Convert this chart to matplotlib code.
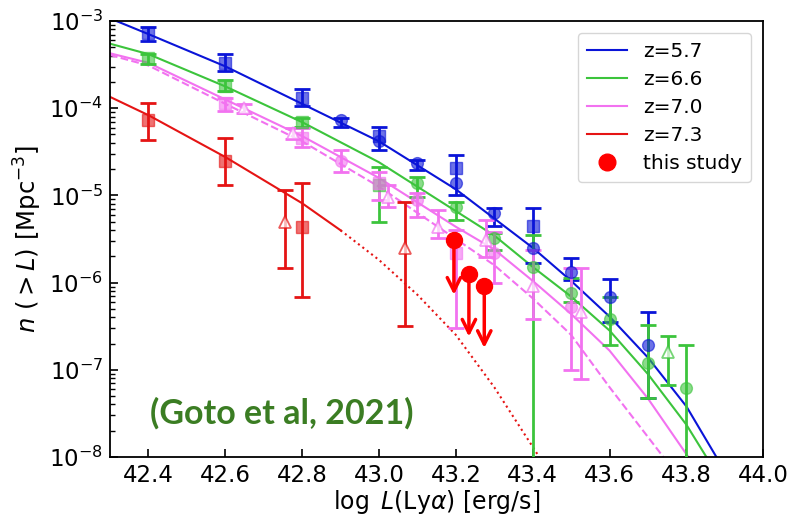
import numpy as np
import matplotlib
matplotlib.use("Agg")
import matplotlib.pyplot as plt
from matplotlib.lines import Line2D

# Curvas de la funcion de luminosidad acumulada (log L, log n)
blue_x = [42.30, 42.40, 42.60, 42.80, 43.00, 43.20, 43.40, 43.50, 43.60, 43.70, 43.80, 43.878]
blue_y = [-2.97, -3.15, -3.52, -3.95, -4.38, -4.93, -5.60, -5.98, -6.39, -6.86, -7.42, -8.0]

green_x = [42.30, 42.40, 42.60, 42.80, 43.00, 43.20, 43.30, 43.40, 43.50, 43.60, 43.70, 43.80, 43.852]
green_y = [-3.26, -3.38, -3.75, -4.16, -4.62, -5.18, -5.46, -5.82, -6.16, -6.55, -7.05, -7.63, -8.0]

pink_x = [42.30, 42.40, 42.60, 42.80, 43.00, 43.20, 43.30, 43.40, 43.50, 43.60, 43.70, 43.805]
pink_y = [-3.37, -3.48, -3.90, -4.32, -4.80, -5.36, -5.62, -5.98, -6.36, -6.78, -7.33, -8.0]

pink_dash_x = [42.30, 42.40, 42.60, 42.80, 43.00, 43.20, 43.30, 43.40, 43.50, 43.60, 43.74]
pink_dash_y = [-3.39, -3.51, -3.95, -4.38, -4.90, -5.50, -5.80, -6.18, -6.60, -7.20, -8.0]

red_x = [42.30, 42.40, 42.60, 42.80, 42.90]
red_y = [-3.87, -4.08, -4.56, -5.09, -5.40]
red_dot_x = [42.90, 43.00, 43.10, 43.20, 43.30, 43.417]
red_dot_y = [-5.40, -5.74, -6.14, -6.60, -7.20, -8.0]

# Puntos de datos: x, log n, extremo inferior, extremo superior
blue_sq_x = [42.4, 42.6, 42.8, 43.0, 43.2, 43.4]
blue_sq_y = [-3.14, -3.48, -3.88, -4.32, -4.69, -5.35]
blue_sq_lo = [-3.23, -3.57, -3.98, -4.48, -5.00, -5.77]
blue_sq_hi = [-3.07, -3.38, -3.78, -4.22, -4.54, -5.15]

blue_ci_x = [42.9, 43.1, 43.3, 43.5, 43.6, 43.7]
blue_ci_y = [-4.14, -4.63, -5.20, -5.88, -6.16, -6.71]
blue_ci_lo = [-4.22, -4.71, -5.35, -5.97, -6.45, -7.32]
blue_ci_hi = [-4.11, -4.59, -5.15, -5.72, -5.96, -6.34]
blue_pt_x = [43.0, 43.2, 43.4]
blue_pt_y = [-4.38, -4.86, -5.60]

green_sq_x = [42.4, 42.6, 42.8, 43.0]
green_sq_y = [-3.42, -3.74, -4.16, -4.88]
green_sq_lo = [-3.49, -3.80, -4.22, -5.31]
green_sq_hi = [-3.38, -3.68, -4.11, -4.67]

green_ci_x = [43.1, 43.2, 43.3, 43.4, 43.5, 43.6, 43.7, 43.8]
green_ci_y = [-4.86, -5.13, -5.49, -5.82, -6.12, -6.42, -6.92, -7.21]
green_ci_lo = [-5.02, -5.28, -5.63, -9.0, -6.22, -6.71, -7.32, -9.0]
green_ci_hi = [-4.79, -5.08, -5.43, -5.45, -5.95, -6.17, -6.49, -6.71]

green_tr_x = [43.753]
green_tr_y = [-6.80]
green_tr_lo = [-7.17]
green_tr_hi = [-6.61]

pink_sq_x = [42.6, 42.8, 43.0, 43.2]
pink_sq_y = [-3.94, -4.34, -4.86, -5.66]
pink_sq_lo = [-4.03, -4.45, -5.05, -6.52]
pink_sq_hi = [-3.88, -4.23, -4.73, -5.40]

pink_ci_x = [42.9, 43.1, 43.3, 43.5]
pink_ci_y = [-4.60, -5.05, -5.66, -6.28]
pink_ci_lo = [-4.73, -5.25, -6.00, -7.00]
pink_ci_hi = [-4.48, -4.97, -5.42, -5.83]

pink_tr_x = [42.648, 42.775, 43.023, 43.154, 43.279, 43.40, 43.527]
pink_tr_y = [-4.00, -4.29, -5.02, -5.36, -5.51, -6.04, -6.34]
pink_tr_lo = [-4.06, -4.35, -5.13, -5.49, -5.71, -6.42, -7.11]
pink_tr_hi = [-3.95, -4.23, -4.88, -5.17, -5.28, -5.63, -5.83]

red_sq_x = [42.4, 42.6, 42.8]
red_sq_y = [-4.14, -4.60, -5.36]
red_sq_lo = [-4.37, -4.88, -6.16]
red_sq_hi = [-3.94, -4.34, -4.86]

red_tr_x = [42.755, 43.068]
red_tr_y = [-5.31, -5.60]
red_tr_lo = [-5.83, -6.50]
red_tr_hi = [-4.94, -5.08]

# Este estudio (limites superiores)
study_x = [43.195, 43.234, 43.274]
study_y = [-5.51, -5.90, -6.04]
study_tip = [-6.14, -6.62, -6.75]

BLUE = "#0a14d8"
GREEN = "#3cc43c"
PINK = "#f272f0"
RED = "#e51414"


def puntos(ax, x, y, lo, hi, color, marker, abierto=False):
    y = 10 ** np.array(y)
    yerr = [y - 10 ** np.array(lo), 10 ** np.array(hi) - y]
    ax.errorbar(x, y, yerr=yerr, fmt="none", ecolor=color, elinewidth=2,
                capsize=6, capthick=2, zorder=3)
    if abierto:
        ax.plot(x, y, linestyle="none", marker=marker, ms=8, mfc="white",
                mec=color, mew=1.3, alpha=0.7, zorder=4)
    else:
        ax.plot(x, y, linestyle="none", marker=marker, ms=8.5, color=color,
                alpha=0.6, zorder=4)


fig = plt.figure(figsize=(7.88, 5.19), dpi=100)
ax = fig.add_axes([0.1396, 0.1195, 0.8290, 0.8400])

# Curvas
ax.plot(blue_x, 10 ** np.array(blue_y), color=BLUE, lw=1.5, zorder=2)
ax.plot(green_x, 10 ** np.array(green_y), color=GREEN, lw=1.5, zorder=2)
ax.plot(pink_x, 10 ** np.array(pink_y), color=PINK, lw=1.5, zorder=2)
ax.plot(pink_dash_x, 10 ** np.array(pink_dash_y), color=PINK, lw=1.5, ls="--", zorder=2)
ax.plot(red_x, 10 ** np.array(red_y), color=RED, lw=1.5, zorder=2)
ax.plot(red_dot_x, 10 ** np.array(red_dot_y), color=RED, lw=1.5, ls=":", zorder=2)

# Datos
puntos(ax, blue_sq_x, blue_sq_y, blue_sq_lo, blue_sq_hi, BLUE, "s")
puntos(ax, blue_ci_x, blue_ci_y, blue_ci_lo, blue_ci_hi, BLUE, "o")
ax.plot(blue_pt_x, 10 ** np.array(blue_pt_y), linestyle="none", marker="o",
        ms=8.5, color=BLUE, alpha=0.6, zorder=4)
puntos(ax, green_sq_x, green_sq_y, green_sq_lo, green_sq_hi, GREEN, "s")
puntos(ax, green_ci_x, green_ci_y, green_ci_lo, green_ci_hi, GREEN, "o")
puntos(ax, green_tr_x, green_tr_y, green_tr_lo, green_tr_hi, GREEN, "^", abierto=True)
puntos(ax, pink_sq_x, pink_sq_y, pink_sq_lo, pink_sq_hi, PINK, "s")
puntos(ax, pink_ci_x, pink_ci_y, pink_ci_lo, pink_ci_hi, PINK, "o")
puntos(ax, pink_tr_x, pink_tr_y, pink_tr_lo, pink_tr_hi, PINK, "^", abierto=True)
puntos(ax, red_sq_x, red_sq_y, red_sq_lo, red_sq_hi, RED, "s")
puntos(ax, red_tr_x, red_tr_y, red_tr_lo, red_tr_hi, RED, "^", abierto=True)

# Este estudio
for xs, ys, yt in zip(study_x, study_y, study_tip):
    ax.annotate("", xy=(xs, 10 ** yt), xytext=(xs, 10 ** ys),
                arrowprops=dict(arrowstyle="->", color="red", lw=2.5,
                                mutation_scale=24, shrinkA=0, shrinkB=0),
                zorder=6)
ax.plot(study_x, 10 ** np.array(study_y), linestyle="none", marker="o",
        ms=11.5, color="red", zorder=7)

ax.set_yscale("log")
ax.set_xlim(42.3, 44.0)
ax.set_ylim(1e-8, 1e-3)
ax.set_xticks([42.4, 42.6, 42.8, 43.0, 43.2, 43.4, 43.6, 43.8, 44.0])
ax.tick_params(axis="both", which="both", direction="in", labelsize=16.5)
ax.tick_params(axis="both", which="major", length=6, width=1.2, pad=5)
ax.tick_params(axis="y", which="minor", length=3.5, width=1)
for sp in ax.spines.values():
    sp.set_linewidth(1.3)

ax.set_xlabel(r"$\log\ L(\mathrm{Ly}\alpha)$ [erg/s]", fontsize=17, labelpad=1)
ax.set_ylabel(r"$n\ (>L)\ [\mathrm{Mpc}^{-3}]$", fontsize=17.5, labelpad=4)

ax.text(0.263, 0.10, "(Goto et al, 2021)", transform=ax.transAxes,
        ha="center", va="center", fontsize=24.5, fontweight="bold",
        family="Lato", color="#3b7d23")

handles = [
    Line2D([], [], color=BLUE, lw=1.5),
    Line2D([], [], color=GREEN, lw=1.5),
    Line2D([], [], color=PINK, lw=1.5),
    Line2D([], [], color=RED, lw=1.5),
    Line2D([], [], color="red", marker="o", ms=12, linestyle="none"),
]
labels = ["z=5.7", "z=6.6", "z=7.0", "z=7.3", "this study"]
ax.legend(handles, labels, loc="upper right", fontsize=14.5, handlelength=2.0,
          labelspacing=0.45, borderpad=0.45, handletextpad=0.8,
          borderaxespad=0.6)

fig.savefig("out.png", dpi=100)
